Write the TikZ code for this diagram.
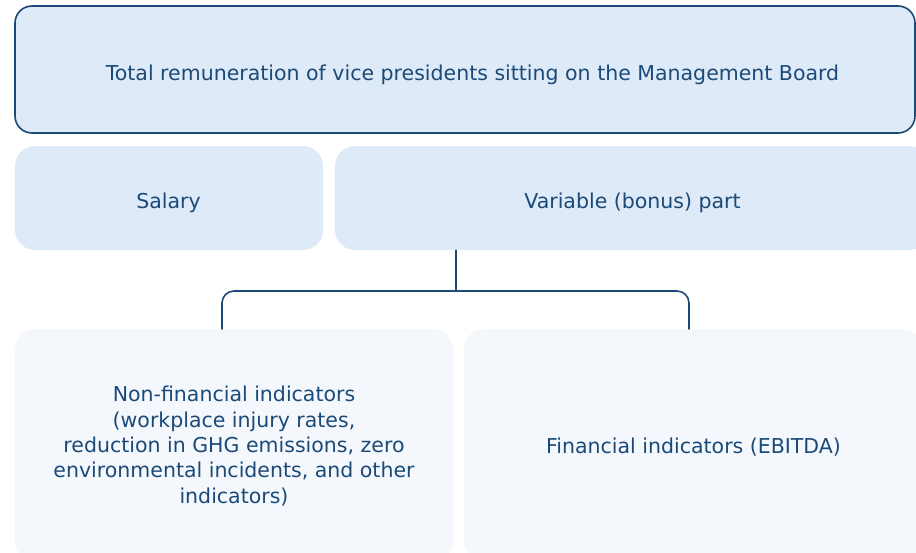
\documentclass[tikz,border=0pt]{standalone}
\usepackage{fontspec}
\setmainfont{DejaVu Sans}
\usetikzlibrary{positioning}
\definecolor{navy}{HTML}{1B4A78}
\definecolor{boxblue}{HTML}{DEEAF8}
\definecolor{paleblue}{HTML}{F4F8FD}

\begin{document}
\begin{tikzpicture}[x=1pt,y=-1pt,line join=round,line cap=round]
\tikzset{every node/.style={inner sep=0pt},
  txt/.style={text=navy,font=\fontsize{20.5}{25.3}\selectfont,align=center},
  topbox/.style={draw=navy,line width=1.6pt,fill=boxblue,rounded corners=17pt},
  midbox/.style={fill=boxblue,rounded corners=20pt},
  lowbox/.style={fill=paleblue,rounded corners=20pt},
  link/.style={draw=navy,line width=1.6pt,rounded corners=12pt}}
\useasboundingbox (0,0) rectangle (916,552);
\clip (0,0) rectangle (916,552);
% boxes
\node[topbox,minimum width=900pt,minimum height=127pt] (total) at (465,69.5) {};
\node[midbox,minimum width=308pt,minimum height=104pt] (salary) at (169,198) {};
\node[midbox,minimum width=594pt,minimum height=104pt] (var) at (632,198) {};
\node[lowbox,minimum width=438pt,minimum height=232pt] (nonfin) at (234,445) {};
\node[lowbox,minimum width=458pt,minimum height=232pt] (fin) at (693,445) {};
% texts
\node[txt,anchor=base] (total-t) at (472.5,80) {Total remuneration of vice presidents sitting on the Management Board};
\node[txt,anchor=base] (salary-t) at (168.5,208.5) {Salary};
\node[txt,anchor=base] (var-t) at (632.5,208.7) {Variable (bonus) part};
\node[txt] (nonfin-t) at (234,446)
  {Non-financial indicators\\(workplace injury rates,\\reduction in GHG emissions, zero\\environmental incidents, and other\\indicators)};
\node[txt,anchor=base] (fin-t) at (693.5,453) {Financial indicators (EBITDA)};
% connector
\coordinate (split) at (456,291);
\coordinate (l) at (222,329);
\coordinate (r) at (689,329);
\draw[link] (var.south -| split) -- (split);
\draw[link] (l) |- (split) -| (r);
\end{tikzpicture}
\end{document}
